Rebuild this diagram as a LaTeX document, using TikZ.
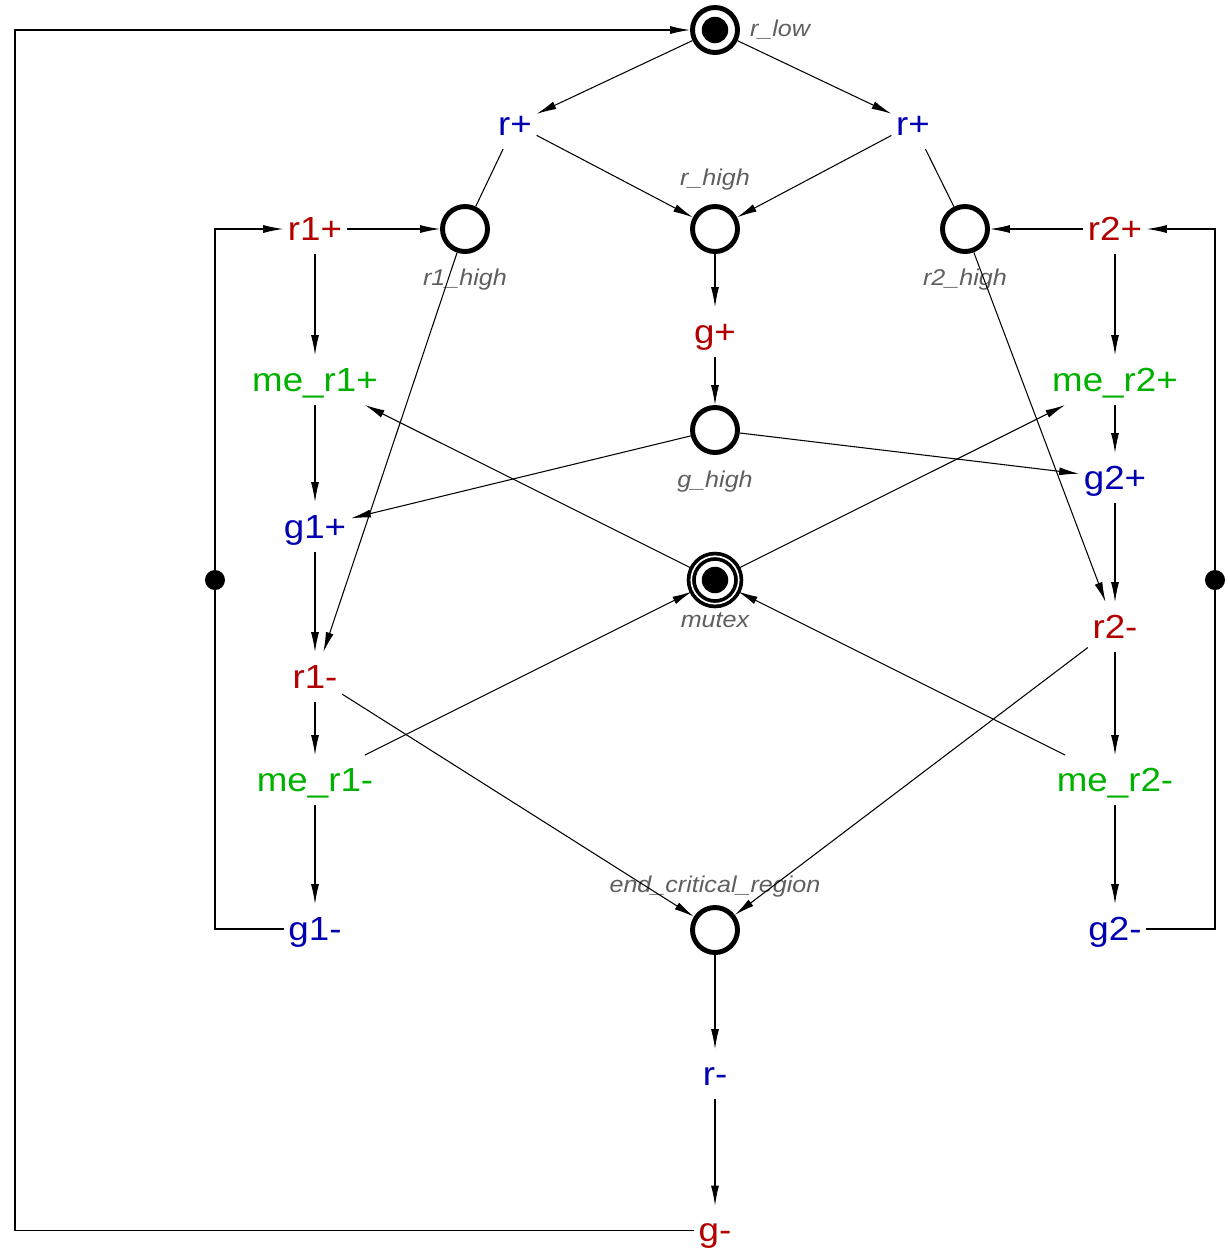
\documentclass[tikz,border=0pt]{standalone}
\usepackage{fontspec}
\setmainfont{Liberation Sans}
\newfontfamily\transfont[FakeStretch=1.1]{Liberation Sans}
\newfontfamily\lblfont[FakeStretch=1.1]{Liberation Sans}
\usetikzlibrary{arrows.meta,positioning}
\definecolor{sigin}{RGB}{0,0,178}
\definecolor{sigout}{RGB}{178,0,0}
\definecolor{sigint}{RGB}{0,178,0}
\definecolor{lblgray}{RGB}{95,95,95}
\tikzset{
  trans/.style={font=\transfont\fontsize{19}{19}\selectfont, text=#1, text height=17pt, text depth=4pt,
                inner xsep=2.5pt, inner ysep=3.5pt},
  place/.style={circle, draw, line width=2.8pt, minimum size=0.9cm, inner sep=0pt},
  marked/.style={path picture={\fill (path picture bounding box.center) circle (0.265cm);}},
  plabel/.style={font=\lblfont\itshape\fontsize{13}{13}\selectfont, text=lblgray, inner sep=1pt},
  arc/.style={-{Latex[length=4mm,width=1.6mm]}, line width=0.6pt},
  readarc/.style={line width=0.6pt},
  implicit/.style={circle, fill, inner sep=0pt, minimum size=0.4cm},
}

\begin{document}
\begin{tikzpicture}
\useasboundingbox (0,0) rectangle (24.6,-25.16);
\node[place, marked] (rlow) at (14.3,-0.6) {};
\node[right=1.6mm of rlow, plabel] {r\_low};
\node[trans=sigin] (rpA) at (10.3,-2.48) {r+};
\node[trans=sigin] (rpB) at (18.26,-2.48) {r+};
\node[trans=sigout] (r1p) at (6.3,-4.58) {r1+};
\node[place] (r1high) at (9.3,-4.58) {};
\node[below=2.6mm of r1high, plabel] {r1\_high};
\node[place] (rhigh) at (14.3,-4.58) {};
\node[above=2.3mm of rhigh, plabel] {r\_high};
\node[place] (r2high) at (19.3,-4.58) {};
\node[below=2.6mm of r2high, plabel] {r2\_high};
\node[trans=sigout] (r2p) at (22.3,-4.58) {r2+};
\node[trans=sigout] (gp) at (14.3,-6.64) {g+};
\node[trans=sigint] (mer1p) at (6.3,-7.6) {me\_r1+};
\node[trans=sigint] (mer2p) at (22.3,-7.6) {me\_r2+};
\node[place] (ghigh) at (14.3,-8.6) {};
\node[below=2.8mm of ghigh, plabel] {g\_high};
\node[trans=sigin] (g1p) at (6.3,-10.54) {g1+};
\node[trans=sigin] (g2p) at (22.3,-9.56) {g2+};
\node[circle, draw, double, line width=2.1pt, double distance=0.95pt, minimum size=0.95cm, inner sep=0pt, marked] (mutex) at (14.3,-11.6) {};
\node[below=1mm of mutex, plabel] {mutex};
\node[trans=sigout] (r1m) at (6.3,-13.54) {r1-};
\node[trans=sigout] (r2m) at (22.3,-12.54) {r2-};
\node[trans=sigint] (mer1m) at (6.3,-15.6) {me\_r1-};
\node[trans=sigint] (mer2m) at (22.3,-15.6) {me\_r2-};
\node[place] (ecr) at (14.3,-18.6) {};
\node[above=1.2mm of ecr, plabel] {end\_critical\_region};
\node[trans=sigin] (g1m) at (6.3,-18.58) {g1-};
\node[trans=sigin] (g2m) at (22.3,-18.58) {g2-};
\node[trans=sigin] (rm) at (14.3,-21.48) {r-};
\node[trans=sigout] (gm) at (14.3,-24.61) {g-};
\node[implicit] (dotL) at (4.3,-11.6) {};
\node[implicit] (dotR) at (24.3,-11.6) {};
\coordinate (loopSW) at (0.3,-24.61);
\coordinate (loopNW) at (0.3,-0.6);

\draw[arc] (rlow) -- (rpA);
\draw[arc] (rlow) -- (rpB);
\draw[arc] (rpA) -- (rhigh);
\draw[arc] (rpB) -- (rhigh);
\draw[readarc] (rpA) -- (r1high);
\draw[readarc] (rpB) -- (r2high);
\draw[arc] (r1p) -- (r1high);
\draw[arc] (r2p) -- (r2high);
\draw[arc] (rhigh) -- (gp);
\draw[arc] (gp) -- (ghigh);
\draw[arc] (ghigh) -- (g1p);
\draw[arc] (ghigh) -- (g2p);
\draw[arc] (r1p) -- (mer1p);
\draw[arc] (mer1p) -- (g1p);
\draw[arc] (g1p) -- (r1m);
\draw[arc] (r1m) -- (mer1m);
\draw[arc] (mer1m) -- (g1m);
\draw[arc] (r2p) -- (mer2p);
\draw[arc] (mer2p) -- (g2p);
\draw[arc] (g2p) -- (r2m);
\draw[arc] (r2m) -- (mer2m);
\draw[arc] (mer2m) -- (g2m);
\draw[arc] (r1high) -- (r1m);
\draw[arc] (r2high) -- (r2m);
\draw[arc] (mutex) -- (mer1p);
\draw[arc] (mutex) -- (mer2p);
\draw[arc] (mer1m) -- (mutex);
\draw[arc] (mer2m) -- (mutex);
\draw[arc] (r1m) -- (ecr);
\draw[arc] (r2m) -- (ecr);
\draw[arc] (ecr) -- (rm);
\draw[arc] (rm) -- (gm);
\draw[arc] (g1m) -| (dotL) |- (r1p);
\draw[arc] (g2m) -| (dotR) |- (r2p);
\draw[arc] (gm) -- (loopSW) -- (loopNW) -- (rlow);
\end{tikzpicture}
\end{document}
